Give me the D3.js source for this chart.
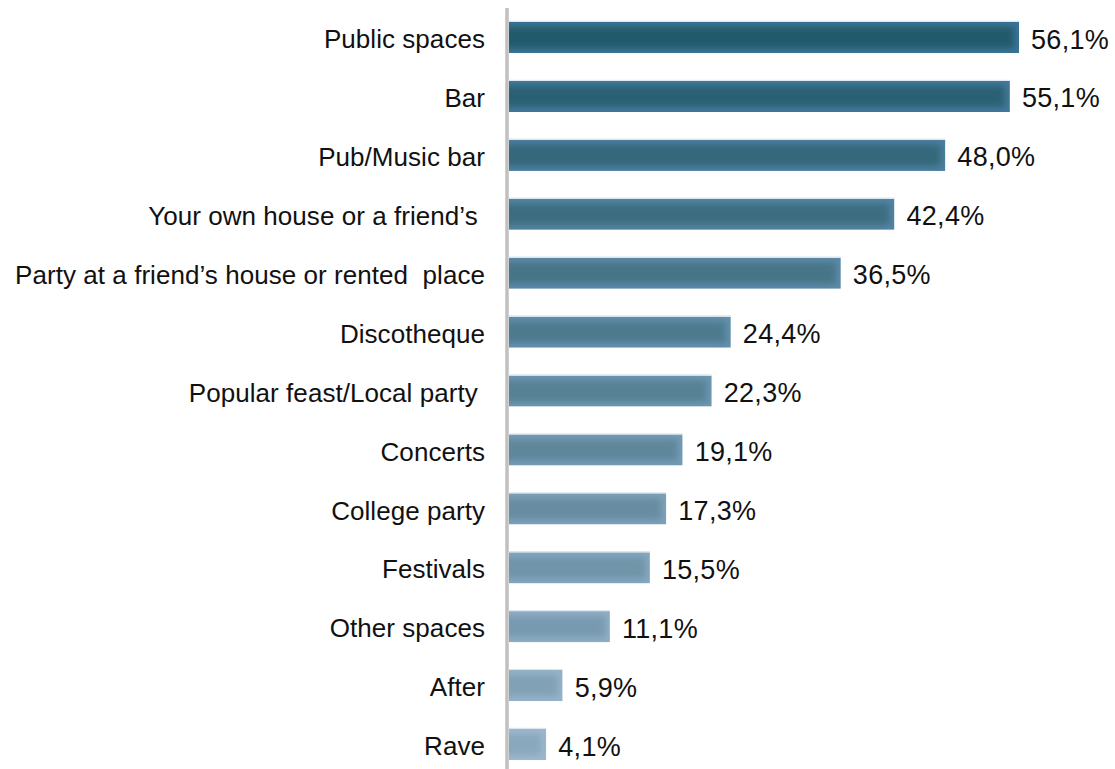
<!DOCTYPE html>
<html>
<head>
<meta charset="utf-8">
<script src="https://cdn.jsdelivr.net/npm/d3@7"></script>
<style>
  html, body { margin: 0; padding: 0; background: #fff; }
  svg { display: block; }
  text { font-family: "Liberation Sans", Arial, sans-serif; fill: #111; }
</style>
</head>
<body>
<svg id="chart" width="1115" height="769"></svg>
<script>
// Venues, in display order (top to bottom)
const categories = [
  "Public spaces",
  "Bar",
  "Pub/Music bar",
  "Your own house or a friend’s ",
  "Party at a friend’s house or rented  place",
  "Discotheque",
  "Popular feast/Local party ",
  "Concerts",
  "College party",
  "Festivals",
  "Other spaces",
  "After",
  "Rave"
];

// Share of respondents (%)
const values = [56.1, 55.1, 48.0, 42.4, 36.5, 24.4, 22.3, 19.1, 17.3, 15.5, 11.1, 5.9, 4.1];

// Value labels as printed
const valueLabels = ["56,1%", "55,1%", "48,0%", "42,4%", "36,5%", "24,4%", "22,3%", "19,1%", "17,3%", "15,5%", "11,1%", "5,9%", "4,1%"];

const W = 1115, H = 769;
const axisX = 509;

const svg = d3.select("#chart");
const defs = svg.append("defs");

const x = d3.scaleLinear().domain([0, 56.1]).range([axisX, 1019]);
const y = d3.scaleBand()
  .domain(categories)
  .range([8, 774])
  .paddingInner(0.47)
  .paddingOuter(0.235);

// Shade runs from deep teal at the top bar to pale steel blue at the bottom
const centerColor = d3.scaleLinear().domain([0, categories.length - 1]).range(["#245a6c", "#89a7bd"]).interpolate(d3.interpolateRgb);
const edgeColor = d3.scaleLinear().domain([0, categories.length - 1]).range(["#3a7396", "#9db8cc"]).interpolate(d3.interpolateRgb);

defs.append("filter").attr("id", "soft")
  .attr("x", "-20%").attr("y", "-50%").attr("width", "140%").attr("height", "200%")
  .append("feGaussianBlur").attr("stdDeviation", 3);

const rows = categories.map((c, i) => ({ cat: c, v: values[i], label: valueLabels[i], i }));

const bars = svg.append("g").selectAll("g").data(rows).join("g");

bars.each(function(d) {
  const g = d3.select(this);
  const x0 = x(0), w = x(d.v) - x(0);
  const y0 = y(d.cat), h = y.bandwidth();
  const clipId = "clip" + d.i;
  defs.append("clipPath").attr("id", clipId)
    .append("rect").attr("x", x0).attr("y", y0).attr("width", w).attr("height", h);
  const inner = g.append("g").attr("clip-path", `url(#${clipId})`);
  inner.append("rect")
    .attr("x", x0).attr("y", y0).attr("width", w).attr("height", h)
    .attr("fill", edgeColor(d.i));
  inner.append("rect")
    .attr("x", x0 - 6).attr("y", y0 + 5).attr("width", w + 1).attr("height", h - 10)
    .attr("fill", centerColor(d.i))
    .attr("filter", "url(#soft)");
  // faint highlight along the top edge
  g.append("line")
    .attr("x1", x0).attr("x2", x0 + w)
    .attr("y1", y0 - 0.5).attr("y2", y0 - 0.5)
    .attr("stroke", "#dde6ee").attr("stroke-width", 1.2);
});

// Category labels
svg.append("g").selectAll("text").data(rows).join("text")
  .attr("x", 485)
  .attr("y", d => y(d.cat) + y.bandwidth() / 2)
  .attr("dy", "0.41em")
  .attr("text-anchor", "end")
  .style("white-space", "pre")
  .attr("font-size", 26)
  .attr("letter-spacing", 0.05)
  .text(d => d.cat);

// Value labels
svg.append("g").selectAll("text").data(rows).join("text")
  .attr("x", d => x(d.v) + 12)
  .attr("y", d => y(d.cat) + y.bandwidth() / 2)
  .attr("dy", "0.41em")
  .attr("font-size", 27)
  .attr("letter-spacing", 0.3)
  .text(d => d.label);

// Vertical category axis line
svg.append("line")
  .attr("x1", axisX - 2).attr("x2", axisX - 2)
  .attr("y1", 8).attr("y2", H)
  .attr("stroke", "#c0c0c0").attr("stroke-width", 3.5);
</script>
</body>
</html>
